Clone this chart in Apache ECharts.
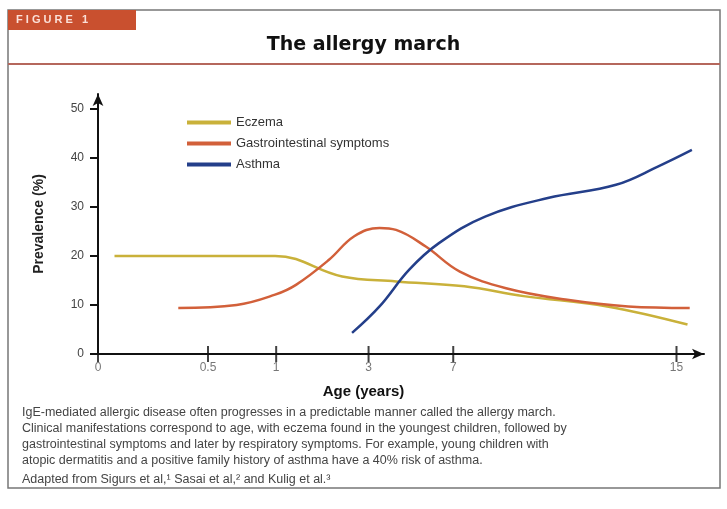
<!DOCTYPE html><html><head><meta charset="utf-8"><script src="https://cdn.jsdelivr.net/npm/echarts@6/dist/echarts.min.js"></script>
<style>body{margin:0;background:#fff}#c{width:727px;height:509px}</style></head><body><div id="c"></div><script>
// x positions are on an ordinal age scale (axis units); tick ages shown as labels
const tickAges = ['0','0.5','1','3','7','15'];
const tickPos = [0,1,1.62,2.46,3.23,5.26];
const eczema = [[0.15,20],[1.61,20],[2.22,15.8],[2.71,14.8],[3.33,13.8],[3.87,11.8],[4.63,9.7],[5.36,6.0]];
const gi = [[0.73,9.4],[1.26,10],[1.61,12.1],[1.8,14.1],[2.1,19.2],[2.33,24],[2.56,25.7],[2.71,25.3],[2.98,21.9],[3.29,16.8],[3.71,13.4],[4.25,11.1],[4.82,9.7],[5.38,9.4]];
const asthma = [[2.31,4.3],[2.56,9.7],[2.83,17.2],[3.1,22.6],[3.52,28],[4.09,31.8],[4.71,34.5],[5.09,38.2],[5.4,41.6]];
const caption = ['IgE-mediated allergic disease often progresses in a predictable manner called the allergy march.',
'Clinical manifestations correspond to age, with eczema found in the youngest children, followed by',
'gastrointestinal symptoms and later by respiratory symptoms. For example, young children with',
'atopic dermatitis and a positive family history of asthma have a 40% risk of asthma.'];
const c = echarts.init(document.getElementById('c'));
const tf = 'Liberation Sans, Arial, sans-serif';
const ln = (name,data,color)=>({name,type:'line',data,smooth:0.4,showSymbol:false,lineStyle:{color,width:2.5},itemStyle:{color}});
c.setOption({
 animation:false,
 grid:{left:98,right:23,top:94,bottom:155},
 xAxis:{type:'value',min:0,max:5.51,axisLine:{lineStyle:{color:'#111',width:2},symbol:['none','arrow'],symbolSize:[8,12]},
  splitLine:{show:false},axisTick:{show:false},axisLabel:{show:false}},
 yAxis:{type:'value',min:0,max:53,interval:10,name:'Prevalence (%)',nameLocation:'middle',nameGap:52,nameRotate:90,
  nameTextStyle:{fontFamily:tf,fontSize:14,fontWeight:'bold',color:'#222'},
  axisLine:{show:true,lineStyle:{color:'#111',width:2},symbol:['none','arrow'],symbolSize:[8,12]},
  axisTick:{show:true,length:8,inside:false,lineStyle:{width:2,color:'#111'}},
  axisLabel:{showMaxLabel:false,color:'#444',fontFamily:tf,fontSize:12,margin:14},splitLine:{show:false}},
 legend:{left:182,top:111,orient:'vertical',itemGap:8,itemWidth:44,itemHeight:4,icon:'rect',
  textStyle:{fontFamily:tf,fontSize:13,color:'#333'},data:['Eczema','Gastrointestinal symptoms','Asthma']},
 series:[ln('Eczema',eczema,'#c9b13a'),ln('Gastrointestinal symptoms',gi,'#d2603a'),ln('Asthma',asthma,'#243f8a'),
  {type:'scatter',data:tickPos.map((p,i)=>[p,0,tickAges[i]]),symbol:'rect',symbolSize:[2,16],
   itemStyle:{color:'#111'},silent:true,label:{show:true,position:'bottom',distance:0,formatter:p=>p.data[2],color:'#555',fontFamily:tf,fontSize:12}}],
 graphic:[
  {type:'rect',shape:{x:8,y:10,width:712,height:478},style:{fill:'none',stroke:'#777',lineWidth:1.5}},
  {type:'rect',shape:{x:8,y:10,width:128,height:20},style:{fill:'#c9502f'}},
  {type:'text',left:16,top:14,style:{text:'F I G U R E   1',fill:'#fbe0d8',font:'bold 11px '+tf}},
  {type:'text',left:'center',top:36,style:{text:'The allergy march',fill:'#111',font:'bold 19px DejaVu Sans, sans-serif'}},
  {type:'rect',shape:{x:8,y:63,width:712,height:2},style:{fill:'#b5675c'}},
  {type:'text',left:'center',top:384,style:{text:'Age (years)',fill:'#111',font:'bold 15px '+tf}},
  {type:'text',left:22,top:405,style:{text:caption.join('\n'),fill:'#444',font:'12.5px '+tf,lineHeight:16}},
  {type:'text',left:22,top:473,style:{text:'Adapted from Sigurs et al,¹ Sasai et al,² and Kulig et al.³',fill:'#444',font:'12.5px '+tf}}
 ]
});
</script></body></html>
